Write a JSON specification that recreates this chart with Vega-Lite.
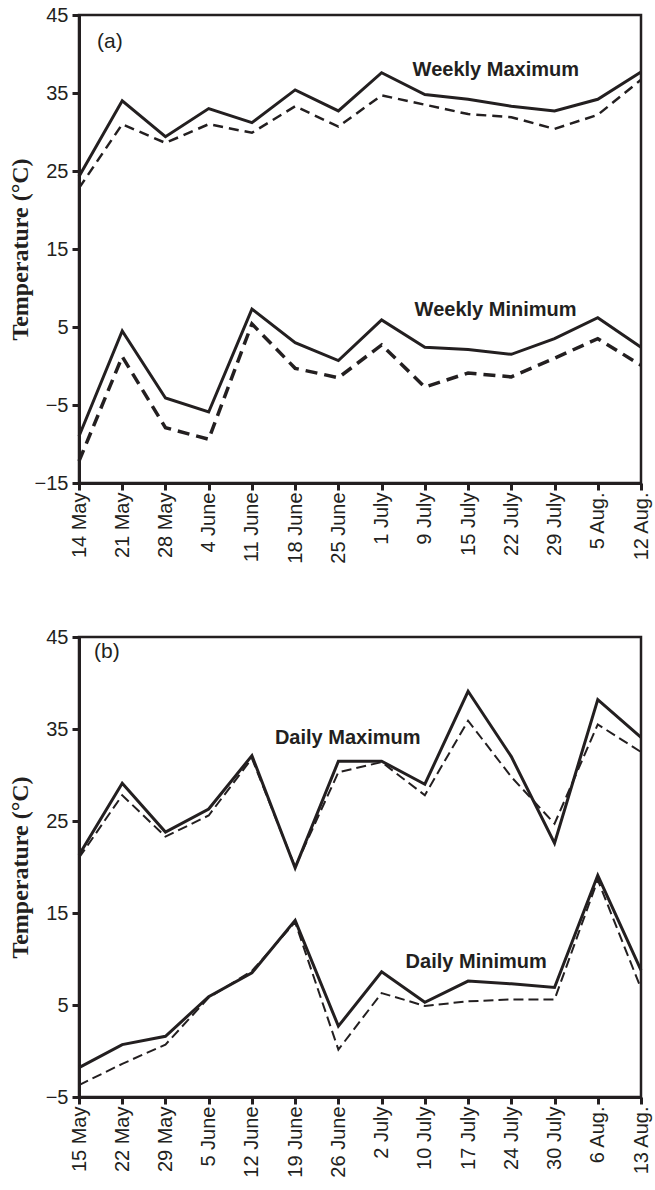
{
  "$schema": "https://vega.github.io/schema/vega-lite/v6.json",
  "background": "white",
  "padding": {"left": 6, "top": 3, "right": 5, "bottom": 5},
  "spacing": 60,
  "config": {
    "view": {"stroke": "#231f20", "strokeWidth": 2.5},
    "axis": {
      "grid": false,
      "domainColor": "#231f20",
      "domainWidth": 3,
      "tickColor": "#231f20",
      "tickWidth": 3,
      "tickSize": 7,
      "labelFont": "Liberation Sans",
      "labelFontSize": 20,
      "labelColor": "#231f20",
      "titleFont": "Liberation Serif",
      "titleFontWeight": "bold",
      "titleFontSize": 24,
      "titleColor": "#231f20"
    },
    "text": {"font": "Liberation Sans", "color": "#231f20"}
  },
  "datasets": {
    "weekly": [
      {"date": "14 May", "series": "max", "line": "solid", "value": 24.3},
      {"date": "21 May", "series": "max", "line": "solid", "value": 34.0},
      {"date": "28 May", "series": "max", "line": "solid", "value": 29.4},
      {"date": "4 June", "series": "max", "line": "solid", "value": 33.0},
      {"date": "11 June", "series": "max", "line": "solid", "value": 31.2},
      {"date": "18 June", "series": "max", "line": "solid", "value": 35.4},
      {"date": "25 June", "series": "max", "line": "solid", "value": 32.7},
      {"date": "1 July", "series": "max", "line": "solid", "value": 37.6},
      {"date": "9 July", "series": "max", "line": "solid", "value": 34.8},
      {"date": "15 July", "series": "max", "line": "solid", "value": 34.2},
      {"date": "22 July", "series": "max", "line": "solid", "value": 33.3},
      {"date": "29 July", "series": "max", "line": "solid", "value": 32.7},
      {"date": "5 Aug.", "series": "max", "line": "solid", "value": 34.2},
      {"date": "12 Aug.", "series": "max", "line": "solid", "value": 37.7},
      {"date": "14 May", "series": "max", "line": "dashed", "value": 22.8},
      {"date": "21 May", "series": "max", "line": "dashed", "value": 31.0},
      {"date": "28 May", "series": "max", "line": "dashed", "value": 28.6},
      {"date": "4 June", "series": "max", "line": "dashed", "value": 31.0},
      {"date": "11 June", "series": "max", "line": "dashed", "value": 29.9},
      {"date": "18 June", "series": "max", "line": "dashed", "value": 33.3},
      {"date": "25 June", "series": "max", "line": "dashed", "value": 30.7},
      {"date": "1 July", "series": "max", "line": "dashed", "value": 34.7},
      {"date": "9 July", "series": "max", "line": "dashed", "value": 33.5},
      {"date": "15 July", "series": "max", "line": "dashed", "value": 32.3},
      {"date": "22 July", "series": "max", "line": "dashed", "value": 31.9},
      {"date": "29 July", "series": "max", "line": "dashed", "value": 30.4},
      {"date": "5 Aug.", "series": "max", "line": "dashed", "value": 32.2},
      {"date": "12 Aug.", "series": "max", "line": "dashed", "value": 36.7},
      {"date": "14 May", "series": "min", "line": "solid", "value": -9.0},
      {"date": "21 May", "series": "min", "line": "solid", "value": 4.5},
      {"date": "28 May", "series": "min", "line": "solid", "value": -4.1},
      {"date": "4 June", "series": "min", "line": "solid", "value": -5.9},
      {"date": "11 June", "series": "min", "line": "solid", "value": 7.3},
      {"date": "18 June", "series": "min", "line": "solid", "value": 3.0},
      {"date": "25 June", "series": "min", "line": "solid", "value": 0.7},
      {"date": "1 July", "series": "min", "line": "solid", "value": 5.9},
      {"date": "9 July", "series": "min", "line": "solid", "value": 2.4},
      {"date": "15 July", "series": "min", "line": "solid", "value": 2.1},
      {"date": "22 July", "series": "min", "line": "solid", "value": 1.5},
      {"date": "29 July", "series": "min", "line": "solid", "value": 3.5},
      {"date": "5 Aug.", "series": "min", "line": "solid", "value": 6.2},
      {"date": "12 Aug.", "series": "min", "line": "solid", "value": 2.4},
      {"date": "14 May", "series": "min", "line": "dashed", "value": -12.2},
      {"date": "21 May", "series": "min", "line": "dashed", "value": 1.2},
      {"date": "28 May", "series": "min", "line": "dashed", "value": -7.9},
      {"date": "4 June", "series": "min", "line": "dashed", "value": -9.4},
      {"date": "11 June", "series": "min", "line": "dashed", "value": 5.4},
      {"date": "18 June", "series": "min", "line": "dashed", "value": -0.3},
      {"date": "25 June", "series": "min", "line": "dashed", "value": -1.5},
      {"date": "1 July", "series": "min", "line": "dashed", "value": 2.7},
      {"date": "9 July", "series": "min", "line": "dashed", "value": -2.7},
      {"date": "15 July", "series": "min", "line": "dashed", "value": -0.9},
      {"date": "22 July", "series": "min", "line": "dashed", "value": -1.4},
      {"date": "29 July", "series": "min", "line": "dashed", "value": 1.0},
      {"date": "5 Aug.", "series": "min", "line": "dashed", "value": 3.5},
      {"date": "12 Aug.", "series": "min", "line": "dashed", "value": 0.1}
    ],
    "daily": [
      {"date": "15 May", "series": "max", "line": "solid", "value": 21.3},
      {"date": "22 May", "series": "max", "line": "solid", "value": 29.1},
      {"date": "29 May", "series": "max", "line": "solid", "value": 23.8},
      {"date": "5 June", "series": "max", "line": "solid", "value": 26.3},
      {"date": "12 June", "series": "max", "line": "solid", "value": 32.1},
      {"date": "19 June", "series": "max", "line": "solid", "value": 19.9},
      {"date": "26 June", "series": "max", "line": "solid", "value": 31.5},
      {"date": "2 July", "series": "max", "line": "solid", "value": 31.5},
      {"date": "10 July", "series": "max", "line": "solid", "value": 29.0},
      {"date": "17 July", "series": "max", "line": "solid", "value": 39.1},
      {"date": "24 July", "series": "max", "line": "solid", "value": 32.0},
      {"date": "30 July", "series": "max", "line": "solid", "value": 22.6},
      {"date": "6 Aug.", "series": "max", "line": "solid", "value": 38.2},
      {"date": "13 Aug.", "series": "max", "line": "solid", "value": 34.1},
      {"date": "15 May", "series": "max", "line": "dashed", "value": 21.0},
      {"date": "22 May", "series": "max", "line": "dashed", "value": 27.8},
      {"date": "29 May", "series": "max", "line": "dashed", "value": 23.3},
      {"date": "5 June", "series": "max", "line": "dashed", "value": 25.6},
      {"date": "12 June", "series": "max", "line": "dashed", "value": 31.8},
      {"date": "19 June", "series": "max", "line": "dashed", "value": 20.0},
      {"date": "26 June", "series": "max", "line": "dashed", "value": 30.3},
      {"date": "2 July", "series": "max", "line": "dashed", "value": 31.4},
      {"date": "10 July", "series": "max", "line": "dashed", "value": 27.8},
      {"date": "17 July", "series": "max", "line": "dashed", "value": 35.9},
      {"date": "24 July", "series": "max", "line": "dashed", "value": 29.8},
      {"date": "30 July", "series": "max", "line": "dashed", "value": 24.7},
      {"date": "6 Aug.", "series": "max", "line": "dashed", "value": 35.5},
      {"date": "13 Aug.", "series": "max", "line": "dashed", "value": 32.5},
      {"date": "15 May", "series": "min", "line": "solid", "value": -1.8},
      {"date": "22 May", "series": "min", "line": "solid", "value": 0.7},
      {"date": "29 May", "series": "min", "line": "solid", "value": 1.6},
      {"date": "5 June", "series": "min", "line": "solid", "value": 5.9},
      {"date": "12 June", "series": "min", "line": "solid", "value": 8.5},
      {"date": "19 June", "series": "min", "line": "solid", "value": 14.2},
      {"date": "26 June", "series": "min", "line": "solid", "value": 2.7},
      {"date": "2 July", "series": "min", "line": "solid", "value": 8.6},
      {"date": "10 July", "series": "min", "line": "solid", "value": 5.3},
      {"date": "17 July", "series": "min", "line": "solid", "value": 7.6},
      {"date": "24 July", "series": "min", "line": "solid", "value": 7.3},
      {"date": "30 July", "series": "min", "line": "solid", "value": 6.9},
      {"date": "6 Aug.", "series": "min", "line": "solid", "value": 19.1},
      {"date": "13 Aug.", "series": "min", "line": "solid", "value": 8.8},
      {"date": "15 May", "series": "min", "line": "dashed", "value": -3.7},
      {"date": "22 May", "series": "min", "line": "dashed", "value": -1.4},
      {"date": "29 May", "series": "min", "line": "dashed", "value": 0.7},
      {"date": "5 June", "series": "min", "line": "dashed", "value": 5.8},
      {"date": "12 June", "series": "min", "line": "dashed", "value": 8.7},
      {"date": "19 June", "series": "min", "line": "dashed", "value": 14.0},
      {"date": "26 June", "series": "min", "line": "dashed", "value": 0.15},
      {"date": "2 July", "series": "min", "line": "dashed", "value": 6.3},
      {"date": "10 July", "series": "min", "line": "dashed", "value": 4.9},
      {"date": "17 July", "series": "min", "line": "dashed", "value": 5.4},
      {"date": "24 July", "series": "min", "line": "dashed", "value": 5.6},
      {"date": "30 July", "series": "min", "line": "dashed", "value": 5.6},
      {"date": "6 Aug.", "series": "min", "line": "dashed", "value": 18.6},
      {"date": "13 Aug.", "series": "min", "line": "dashed", "value": 6.8}
    ]
  },
  "vconcat": [
    {
      "width": 562,
      "height": 468,
      "data": {"name": "weekly"},
      "encoding": {
        "x": {
          "field": "date",
          "type": "nominal",
          "scale": {"type": "point", "padding": 0, "domain": ["14 May", "21 May", "28 May", "4 June", "11 June", "18 June", "25 June", "1 July", "9 July", "15 July", "22 July", "29 July", "5 Aug.", "12 Aug."]},
          "axis": {"title": null, "labelAngle": -90, "labelAlign": "right", "labelBaseline": "middle", "labelPadding": 2}
        },
        "y": {
          "field": "value",
          "type": "quantitative",
          "scale": {"domain": [-15, 45], "nice": false, "zero": false},
          "axis": {"title": "Temperature (°C)", "values": [-15, -5, 5, 15, 25, 35, 45], "labelPadding": 4, "titlePadding": 2}
        }
      },
      "layer": [
        {"transform": [{"filter": "datum.series === 'max' && datum.line === 'solid'"}], "mark": {"type": "line", "color": "#231f20", "strokeWidth": 3}},
        {"transform": [{"filter": "datum.series === 'max' && datum.line === 'dashed'"}], "mark": {"type": "line", "color": "#231f20", "strokeWidth": 2.5, "strokeDash": [10, 6]}},
        {"transform": [{"filter": "datum.series === 'min' && datum.line === 'solid'"}], "mark": {"type": "line", "color": "#231f20", "strokeWidth": 3}},
        {"transform": [{"filter": "datum.series === 'min' && datum.line === 'dashed'"}], "mark": {"type": "line", "color": "#231f20", "strokeWidth": 3.5, "strokeDash": [12, 7]}},
        {"data": {"values": [{"date": "14 May", "value": 41.6, "label": "(a)"}]}, "mark": {"type": "text", "align": "left", "baseline": "middle", "dx": 18, "fontSize": 21}, "encoding": {"text": {"field": "label"}}},
        {"data": {"values": [{"date": "1 July", "value": 38, "label": "Weekly Maximum"}]}, "mark": {"type": "text", "align": "left", "baseline": "middle", "dx": 31, "fontSize": 20, "fontWeight": "bold"}, "encoding": {"text": {"field": "label"}}},
        {"data": {"values": [{"date": "1 July", "value": 7.2, "label": "Weekly Minimum"}]}, "mark": {"type": "text", "align": "left", "baseline": "middle", "dx": 33, "fontSize": 20, "fontWeight": "bold"}, "encoding": {"text": {"field": "label"}}}
      ]
    },
    {
      "width": 562,
      "height": 460,
      "data": {"name": "daily"},
      "encoding": {
        "x": {
          "field": "date",
          "type": "nominal",
          "scale": {"type": "point", "padding": 0, "domain": ["15 May", "22 May", "29 May", "5 June", "12 June", "19 June", "26 June", "2 July", "10 July", "17 July", "24 July", "30 July", "6 Aug.", "13 Aug."]},
          "axis": {"title": null, "labelAngle": -90, "labelAlign": "right", "labelBaseline": "middle", "labelPadding": 2}
        },
        "y": {
          "field": "value",
          "type": "quantitative",
          "scale": {"domain": [-5, 45], "nice": false, "zero": false},
          "axis": {"title": "Temperature (°C)", "values": [-5, 5, 15, 25, 35, 45], "labelPadding": 4, "titlePadding": 13}
        }
      },
      "layer": [
        {"transform": [{"filter": "datum.series === 'max' && datum.line === 'solid'"}], "mark": {"type": "line", "color": "#231f20", "strokeWidth": 3}},
        {"transform": [{"filter": "datum.series === 'max' && datum.line === 'dashed'"}], "mark": {"type": "line", "color": "#231f20", "strokeWidth": 2, "strokeDash": [10, 5]}},
        {"transform": [{"filter": "datum.series === 'min' && datum.line === 'solid'"}], "mark": {"type": "line", "color": "#231f20", "strokeWidth": 3}},
        {"transform": [{"filter": "datum.series === 'min' && datum.line === 'dashed'"}], "mark": {"type": "line", "color": "#231f20", "strokeWidth": 2, "strokeDash": [10, 5]}},
        {"data": {"values": [{"date": "15 May", "value": 43.4, "label": "(b)"}]}, "mark": {"type": "text", "align": "left", "baseline": "middle", "dx": 15, "fontSize": 21}, "encoding": {"text": {"field": "label"}}},
        {"data": {"values": [{"date": "12 June", "value": 34, "label": "Daily Maximum"}]}, "mark": {"type": "text", "align": "left", "baseline": "middle", "dx": 23, "fontSize": 20, "fontWeight": "bold"}, "encoding": {"text": {"field": "label"}}},
        {"data": {"values": [{"date": "2 July", "value": 9.7, "label": "Daily Minimum"}]}, "mark": {"type": "text", "align": "left", "baseline": "middle", "dx": 24, "fontSize": 20, "fontWeight": "bold"}, "encoding": {"text": {"field": "label"}}}
      ]
    }
  ]
}
